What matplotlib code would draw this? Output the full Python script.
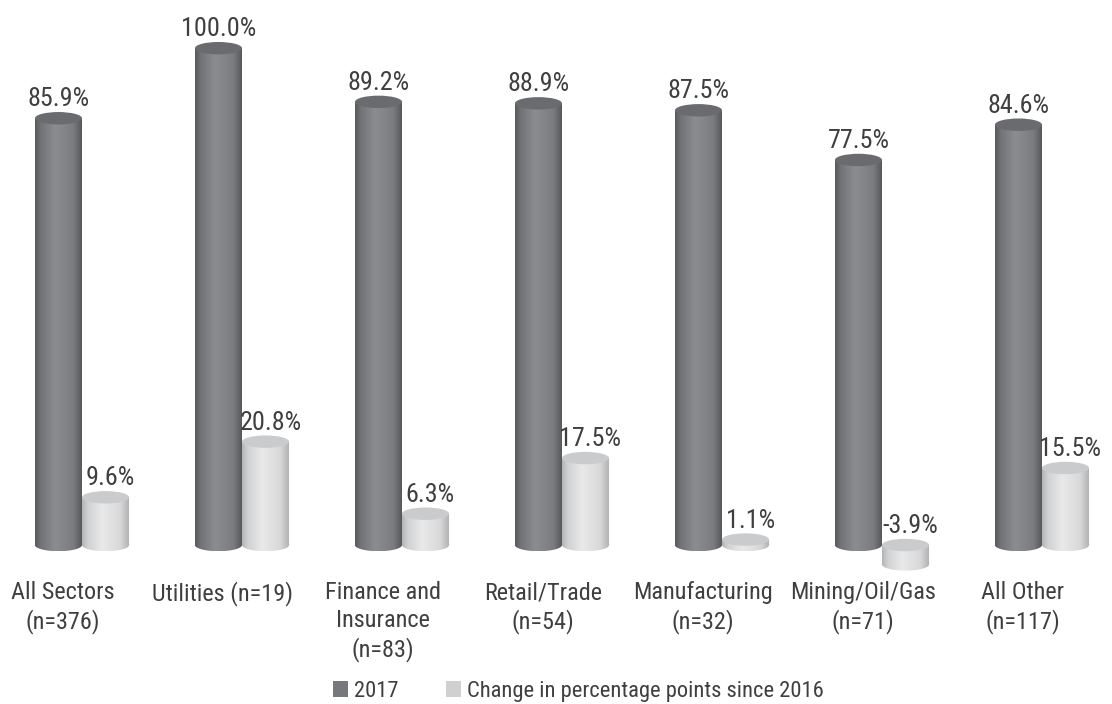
import numpy as np
import matplotlib
matplotlib.use('Agg')
import matplotlib.pyplot as plt
import matplotlib.patches as patches
from matplotlib.path import Path
from matplotlib.colors import LinearSegmentedColormap
from matplotlib import font_manager

categories = ["All Sectors\n(n=376)", "Utilities (n=19)", "Finance and\nInsurance\n(n=83)",
              "Retail/Trade\n(n=54)", "Manufacturing\n(n=32)", "Mining/Oil/Gas\n(n=71)",
              "All Other\n(n=117)"]
v2017 = [85.9, 100.0, 89.2, 88.9, 87.5, 77.5, 84.6]
change = [9.6, 20.8, 6.3, 17.5, 1.1, -3.9, 15.5]
series_names = ["2017", "Change in percentage points since 2016"]

# look for a narrow face, the original uses a condensed gothic
fonts = font_manager.fontManager.ttflist
names = {f.name for f in fonts}
cond = [f for f in fonts if f.name == 'DejaVu Sans' and 'ondensed' in str(f.stretch)
        and f.weight in (400, 'normal') and f.style == 'normal']
fam, stretch, scale = 'DejaVu Sans', 'normal', 0.82
for cand in ['Liberation Sans Narrow', 'Roboto Condensed', 'Open Sans Condensed', 'Noto Sans Condensed']:
    if cand in names:
        fam, stretch, scale = cand, 'normal', 1.0
        break
else:
    if cond:
        fam, stretch, scale = 'DejaVu Sans', 'condensed', 0.92
plt.rcParams['font.family'] = [fam, 'DejaVu Sans']
plt.rcParams['font.stretch'] = stretch
txtcol = '#3f3f3f'
fs_val = 18.8 * scale
fs_cat = 17.5 * scale
fs_leg = 16.2 * scale

dark_cm = LinearSegmentedColormap.from_list('dk', [(0, '#58595c'), (0.12, '#727376'), (0.42, '#8c8d90'),
                                                   (0.8, '#7b7c7f'), (1, '#535456')])
light_cm = LinearSegmentedColormap.from_list('lt', [(0, '#b3b4b6'), (0.12, '#d0d1d2'), (0.42, '#e9e9ea'),
                                                    (0.8, '#d8d8d9'), (1, '#adaeb0')])


def cylinder(ax, xc, lo, hi, w, ry, cmap, topcol):
    th = np.linspace(np.pi, 2 * np.pi, 60)
    bx = xc + w / 2 * np.cos(th)
    by = lo + ry * np.sin(th)
    verts = [(xc - w / 2, hi)] + list(zip(bx, by)) + [(xc + w / 2, hi), (xc - w / 2, hi)]
    codes = [Path.MOVETO] + [Path.LINETO] * (len(verts) - 2) + [Path.CLOSEPOLY]
    body = patches.PathPatch(Path(verts, codes), facecolor='none', edgecolor='none')
    ax.add_patch(body)
    grad = np.linspace(0, 1, 256).reshape(1, -1)
    im = ax.imshow(grad, cmap=cmap, extent=[xc - w / 2, xc + w / 2, lo - ry, hi],
                   aspect='auto', interpolation='bicubic', zorder=2)
    im.set_clip_path(body)
    top = patches.Ellipse((xc, hi), w, 2 * ry, facecolor=topcol, edgecolor='none', zorder=3)
    ax.add_patch(top)


fig = plt.figure(figsize=(11.12, 7.04), dpi=100)
ax = fig.add_axes([0, 0, 1, 1])
ax.axis('off')

w = 0.294
ry = 1.25
x = np.arange(len(categories))
for i in x:
    xd = i - w / 2
    xl = i + w / 2
    cylinder(ax, xd, 0, v2017[i], w, ry, dark_cm, '#6a6b6e')
    cylinder(ax, xl, min(0, change[i]), max(0, change[i]), w, ry, light_cm, '#cacbcc')
    ax.annotate(f"{v2017[i]:.1f}%", (xd, v2017[i]), xytext=(0, 5), textcoords='offset points',
                ha='center', va='bottom', fontsize=fs_val, color=txtcol)
    ax.annotate(f"{change[i]:.1f}%", (xl + 0.03, max(0, change[i])), xytext=(0, 5),
                textcoords='offset points', ha='center', va='bottom', fontsize=fs_val, color=txtcol)
    ax.text(i - 0.12, -7.3, categories[i], ha='center', va='top', fontsize=fs_cat,
            color=txtcol, linespacing=1.25)

ax.set_xlim(-0.5125, 6.4375)
ax.set_ylim(-32.0, 109.7)

handles = [patches.Patch(facecolor='#77787b'), patches.Patch(facecolor='#d0d0d1')]
fig.legend(handles, series_names, loc='lower center', bbox_to_anchor=(0.52, -0.026), ncol=2,
           frameon=False, fontsize=fs_leg, handlelength=0.7, handleheight=0.7,
           handletextpad=0.25, columnspacing=2.1, labelcolor=txtcol)

fig.savefig('out.png', dpi=100)
